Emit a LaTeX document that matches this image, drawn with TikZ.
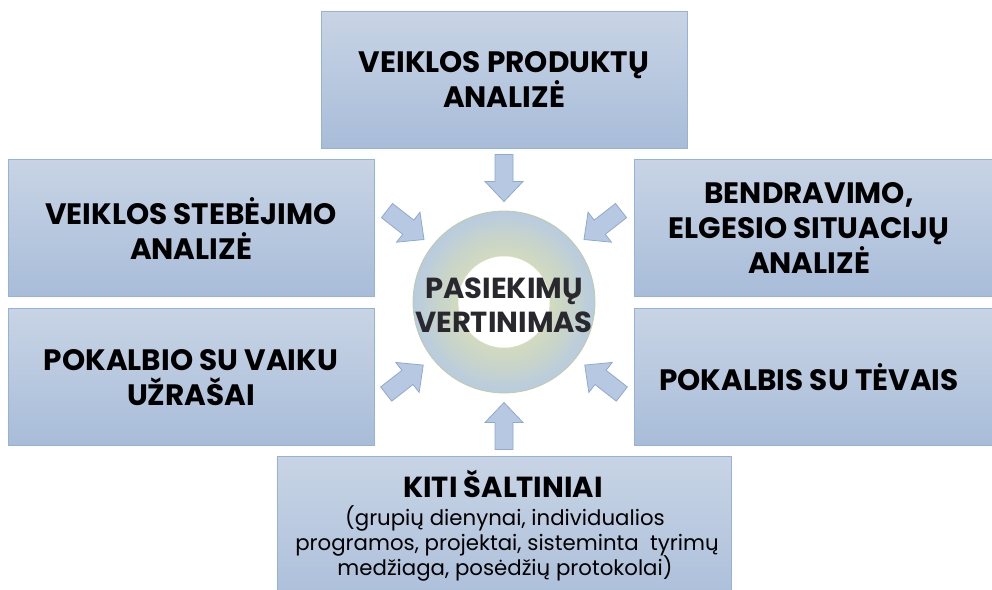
\documentclass[tikz,border=0pt]{standalone}
\usepackage{fontspec}
\setmainfont{Poppins}
\usetikzlibrary{calc}
\definecolor{boxtop}{RGB}{200,212,229}
\definecolor{boxbot}{RGB}{168,188,217}
\definecolor{boxedge}{RGB}{149,179,215}
\definecolor{arrfill}{RGB}{182,200,226}
\definecolor{arredge}{RGB}{143,170,207}
\definecolor{ringin}{RGB}{210,218,192}
\definecolor{ringmid}{RGB}{200,212,202}
\definecolor{ringout}{RGB}{184,203,224}
\definecolor{ringedge}{RGB}{190,206,160}
\definecolor{ctext}{RGB}{40,40,46}
\pgfdeclareradialshading{ringshade}{\pgfpoint{0bp}{0bp}}{color(0bp)=(ringin); color(12.6bp)=(ringin); color(18bp)=(ringmid); color(25bp)=(ringout); color(50bp)=(ringout)}
\tikzset{
  box/.style={draw=boxedge, line width=1pt, top color=boxtop, bottom color=boxbot,
    minimum width=366pt, minimum height=137pt, inner sep=0pt},
  boxtext/.style={inner sep=0pt, align=center, text=black,
    font=\fontsize{29.5}{35}\selectfont\bfseries},
  subtext/.style={inner sep=0pt, anchor=base, text=black, font=\fontsize{21.3}{25}\selectfont},
  centertext/.style={inner sep=0pt, anchor=base, text=ctext, font=\fontsize{29}{34}\selectfont\bfseries},
  blockarrow/.style={draw=arredge, fill=arrfill, line width=0.8pt, line join=miter},
}
\begin{document}
\begin{tikzpicture}[x=1pt,y=1pt]
\useasboundingbox (0,0) rectangle (992,589);
\clip (0,0) rectangle (992,589);
% boxes
\node[box] (top) at (504,509) {};
\node[boxtext] (toptext) at (504,509) {VEIKLOS PRODUKTŲ\\ANALIZĖ};
\node[box] (lt) at (191,360.5) {};
\node[boxtext] (lttext) at (191,360.5) {VEIKLOS STEBĖJIMO\\ANALIZĖ};
\node[box] (lb) at (191,211.5) {};
\node[boxtext] (lbtext) at (191,211.5) {POKALBIO SU VAIKU\\UŽRAŠAI};
\node[box] (rt) at (817,360.5) {};
\node[boxtext] (rttext) at (809,360.5) {BENDRAVIMO,\\ELGESIO SITUACIJŲ\\ANALIZĖ};
\node[box] (rb) at (817,211.5) {};
\node[boxtext] (rbtext) at (809,211.5) {POKALBIS SU TĖVAIS};
\node[box, minimum width=454pt, minimum height=163pt] (bot) at (504,50.5) {};
\node[inner sep=0pt, anchor=base, font=\fontsize{29}{34}\selectfont\bfseries] (bt1) at (503,92) {KITI ŠALTINIAI};
\node[subtext] (bt2) at (505,64) {(grupių dienynai, individualios};
\node[subtext] (bt3) at (507,39) {programos, projektai, sisteminta\ \ tyrimų};
\node[subtext] (bt4) at (505,14) {medžiaga, posėdžių protokolai)};
% ring
\coordinate (rc) at (504,287);
\shade[shading=ringshade, even odd rule] (rc) circle (91) (rc) circle (46);
\draw[ringedge, line width=0.8pt] (rc) circle (91);
\draw[ringedge!60, line width=0.5pt] (rc) circle (46);
\node[centertext] (ct1) at (504,290) {PASIEKIMŲ};
\node[centertext] (ct2) at (504,256) {VERTINIMAS};
% arrows
\foreach \a/\r in {90/124, 142/125, 218/126, 270/124, 322/126, 38/125}{
  \draw[blockarrow, shift={(rc)}, rotate=\a]
    ({\r+23.5},-9) -- ({\r-3.5},-9) -- ({\r-3.5},-19) -- ({\r-23.5},0)
    -- ({\r-3.5},19) -- ({\r-3.5},9) -- ({\r+23.5},9) -- cycle;
}
\end{tikzpicture}
\end{document}
